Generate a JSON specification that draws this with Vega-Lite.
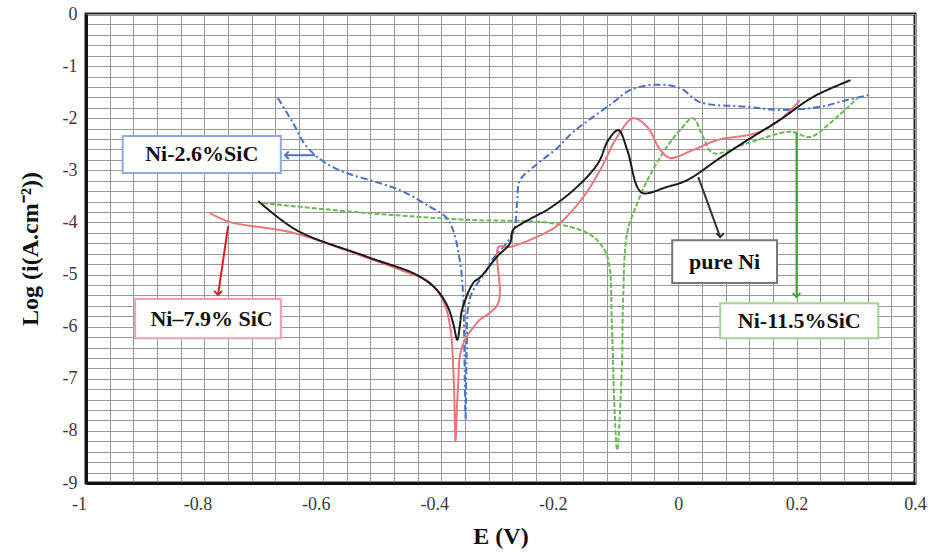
{
  "$schema": "https://vega.github.io/schema/vega-lite/v6.json",
  "width": 829,
  "height": 469,
  "autosize": "none",
  "padding": {"left": 86, "top": 14, "right": 20, "bottom": 71},
  "background": "white",
  "config": {
    "view": {"stroke": "#222222", "strokeWidth": 3},
    "font": "Liberation Serif"
  },
  "datasets": {
    "curves": [
      {"s": "Ni-11.5%SiC", "i": 1, "E": -0.701, "L": -3.63},
      {"s": "Ni-11.5%SiC", "i": 2, "E": -0.525, "L": -3.82},
      {"s": "Ni-11.5%SiC", "i": 3, "E": -0.356, "L": -3.95},
      {"s": "Ni-11.5%SiC", "i": 4, "E": -0.216, "L": -4.01},
      {"s": "Ni-11.5%SiC", "i": 5, "E": -0.154, "L": -4.2},
      {"s": "Ni-11.5%SiC", "i": 6, "E": -0.132, "L": -4.4},
      {"s": "Ni-11.5%SiC", "i": 7, "E": -0.118, "L": -4.72},
      {"s": "Ni-11.5%SiC", "i": 8, "E": -0.112, "L": -5.93},
      {"s": "Ni-11.5%SiC", "i": 9, "E": -0.108, "L": -7.41},
      {"s": "Ni-11.5%SiC", "i": 10, "E": -0.103, "L": -8.37},
      {"s": "Ni-11.5%SiC", "i": 11, "E": -0.095, "L": -6.78},
      {"s": "Ni-11.5%SiC", "i": 12, "E": -0.093, "L": -5.49},
      {"s": "Ni-11.5%SiC", "i": 13, "E": -0.086, "L": -4.2},
      {"s": "Ni-11.5%SiC", "i": 14, "E": -0.069, "L": -3.63},
      {"s": "Ni-11.5%SiC", "i": 15, "E": -0.052, "L": -3.19},
      {"s": "Ni-11.5%SiC", "i": 16, "E": -0.019, "L": -2.55},
      {"s": "Ni-11.5%SiC", "i": 17, "E": 0.003, "L": -2.23},
      {"s": "Ni-11.5%SiC", "i": 18, "E": 0.025, "L": -2.0},
      {"s": "Ni-11.5%SiC", "i": 19, "E": 0.042, "L": -2.36},
      {"s": "Ni-11.5%SiC", "i": 20, "E": 0.059, "L": -2.67},
      {"s": "Ni-11.5%SiC", "i": 21, "E": 0.117, "L": -2.48},
      {"s": "Ni-11.5%SiC", "i": 22, "E": 0.189, "L": -2.26},
      {"s": "Ni-11.5%SiC", "i": 23, "E": 0.223, "L": -2.36},
      {"s": "Ni-11.5%SiC", "i": 24, "E": 0.257, "L": -2.09},
      {"s": "Ni-11.5%SiC", "i": 25, "E": 0.302, "L": -1.62},

      {"s": "Ni-2.6%SiC", "i": 1, "E": -0.676, "L": -1.61},
      {"s": "Ni-2.6%SiC", "i": 2, "E": -0.65, "L": -2.1},
      {"s": "Ni-2.6%SiC", "i": 3, "E": -0.627, "L": -2.55},
      {"s": "Ni-2.6%SiC", "i": 4, "E": -0.583, "L": -2.94},
      {"s": "Ni-2.6%SiC", "i": 5, "E": -0.47, "L": -3.38},
      {"s": "Ni-2.6%SiC", "i": 6, "E": -0.419, "L": -3.7},
      {"s": "Ni-2.6%SiC", "i": 7, "E": -0.392, "L": -3.9},
      {"s": "Ni-2.6%SiC", "i": 8, "E": -0.38, "L": -4.15},
      {"s": "Ni-2.6%SiC", "i": 9, "E": -0.368, "L": -4.78},
      {"s": "Ni-2.6%SiC", "i": 10, "E": -0.363, "L": -5.43},
      {"s": "Ni-2.6%SiC", "i": 11, "E": -0.361, "L": -6.5},
      {"s": "Ni-2.6%SiC", "i": 12, "E": -0.359, "L": -7.78},
      {"s": "Ni-2.6%SiC", "i": 13, "E": -0.357, "L": -6.5},
      {"s": "Ni-2.6%SiC", "i": 14, "E": -0.351, "L": -5.43},
      {"s": "Ni-2.6%SiC", "i": 15, "E": -0.323, "L": -4.91},
      {"s": "Ni-2.6%SiC", "i": 16, "E": -0.318, "L": -4.78},
      {"s": "Ni-2.6%SiC", "i": 17, "E": -0.279, "L": -4.2},
      {"s": "Ni-2.6%SiC", "i": 18, "E": -0.272, "L": -3.63},
      {"s": "Ni-2.6%SiC", "i": 19, "E": -0.267, "L": -3.19},
      {"s": "Ni-2.6%SiC", "i": 20, "E": -0.236, "L": -2.86},
      {"s": "Ni-2.6%SiC", "i": 21, "E": -0.204, "L": -2.57},
      {"s": "Ni-2.6%SiC", "i": 22, "E": -0.177, "L": -2.26},
      {"s": "Ni-2.6%SiC", "i": 23, "E": -0.144, "L": -1.98},
      {"s": "Ni-2.6%SiC", "i": 24, "E": -0.111, "L": -1.71},
      {"s": "Ni-2.6%SiC", "i": 25, "E": -0.081, "L": -1.46},
      {"s": "Ni-2.6%SiC", "i": 26, "E": -0.042, "L": -1.36},
      {"s": "Ni-2.6%SiC", "i": 27, "E": 0.003, "L": -1.42},
      {"s": "Ni-2.6%SiC", "i": 28, "E": 0.037, "L": -1.69},
      {"s": "Ni-2.6%SiC", "i": 29, "E": 0.117, "L": -1.78},
      {"s": "Ni-2.6%SiC", "i": 30, "E": 0.172, "L": -1.84},
      {"s": "Ni-2.6%SiC", "i": 31, "E": 0.24, "L": -1.78},
      {"s": "Ni-2.6%SiC", "i": 32, "E": 0.285, "L": -1.65},
      {"s": "Ni-2.6%SiC", "i": 33, "E": 0.324, "L": -1.55},

      {"s": "Ni-7.9% SiC", "i": 1, "E": -0.791, "L": -3.82},
      {"s": "Ni-7.9% SiC", "i": 2, "E": -0.757, "L": -3.99},
      {"s": "Ni-7.9% SiC", "i": 3, "E": -0.65, "L": -4.2},
      {"s": "Ni-7.9% SiC", "i": 4, "E": -0.525, "L": -4.68},
      {"s": "Ni-7.9% SiC", "i": 5, "E": -0.46, "L": -4.95},
      {"s": "Ni-7.9% SiC", "i": 6, "E": -0.42, "L": -5.15},
      {"s": "Ni-7.9% SiC", "i": 7, "E": -0.397, "L": -5.5},
      {"s": "Ni-7.9% SiC", "i": 8, "E": -0.385, "L": -6.0},
      {"s": "Ni-7.9% SiC", "i": 9, "E": -0.379, "L": -7.0},
      {"s": "Ni-7.9% SiC", "i": 10, "E": -0.376, "L": -8.18},
      {"s": "Ni-7.9% SiC", "i": 11, "E": -0.372, "L": -7.2},
      {"s": "Ni-7.9% SiC", "i": 12, "E": -0.365, "L": -6.39},
      {"s": "Ni-7.9% SiC", "i": 13, "E": -0.34, "L": -5.93},
      {"s": "Ni-7.9% SiC", "i": 14, "E": -0.304, "L": -5.55},
      {"s": "Ni-7.9% SiC", "i": 15, "E": -0.303, "L": -4.47},
      {"s": "Ni-7.9% SiC", "i": 16, "E": -0.284, "L": -4.47},
      {"s": "Ni-7.9% SiC", "i": 17, "E": -0.216, "L": -4.15},
      {"s": "Ni-7.9% SiC", "i": 18, "E": -0.199, "L": -4.01},
      {"s": "Ni-7.9% SiC", "i": 19, "E": -0.16, "L": -3.51},
      {"s": "Ni-7.9% SiC", "i": 20, "E": -0.132, "L": -3.0},
      {"s": "Ni-7.9% SiC", "i": 21, "E": -0.103, "L": -2.36},
      {"s": "Ni-7.9% SiC", "i": 22, "E": -0.076, "L": -2.0},
      {"s": "Ni-7.9% SiC", "i": 23, "E": -0.052, "L": -2.17},
      {"s": "Ni-7.9% SiC", "i": 24, "E": -0.03, "L": -2.61},
      {"s": "Ni-7.9% SiC", "i": 25, "E": -0.014, "L": -2.76},
      {"s": "Ni-7.9% SiC", "i": 26, "E": 0.025, "L": -2.61},
      {"s": "Ni-7.9% SiC", "i": 27, "E": 0.066, "L": -2.42},
      {"s": "Ni-7.9% SiC", "i": 28, "E": 0.133, "L": -2.28},
      {"s": "Ni-7.9% SiC", "i": 29, "E": 0.172, "L": -2.03},
      {"s": "Ni-7.9% SiC", "i": 30, "E": 0.206, "L": -1.65},

      {"s": "pure Ni", "i": 1, "E": -0.709, "L": -3.59},
      {"s": "pure Ni", "i": 2, "E": -0.644, "L": -4.15},
      {"s": "pure Ni", "i": 3, "E": -0.525, "L": -4.66},
      {"s": "pure Ni", "i": 4, "E": -0.441, "L": -5.01},
      {"s": "pure Ni", "i": 5, "E": -0.407, "L": -5.3},
      {"s": "pure Ni", "i": 6, "E": -0.389, "L": -5.62},
      {"s": "pure Ni", "i": 7, "E": -0.38, "L": -5.93},
      {"s": "pure Ni", "i": 8, "E": -0.373, "L": -6.25},
      {"s": "pure Ni", "i": 9, "E": -0.368, "L": -5.92},
      {"s": "pure Ni", "i": 10, "E": -0.365, "L": -5.68},
      {"s": "pure Ni", "i": 11, "E": -0.346, "L": -5.16},
      {"s": "pure Ni", "i": 12, "E": -0.334, "L": -5.05},
      {"s": "pure Ni", "i": 13, "E": -0.306, "L": -4.66},
      {"s": "pure Ni", "i": 14, "E": -0.284, "L": -4.4},
      {"s": "pure Ni", "i": 15, "E": -0.279, "L": -4.15},
      {"s": "pure Ni", "i": 16, "E": -0.262, "L": -4.01},
      {"s": "pure Ni", "i": 17, "E": -0.216, "L": -3.72},
      {"s": "pure Ni", "i": 18, "E": -0.171, "L": -3.32},
      {"s": "pure Ni", "i": 19, "E": -0.135, "L": -2.86},
      {"s": "pure Ni", "i": 20, "E": -0.118, "L": -2.42},
      {"s": "pure Ni", "i": 21, "E": -0.101, "L": -2.23},
      {"s": "pure Ni", "i": 22, "E": -0.086, "L": -2.61},
      {"s": "pure Ni", "i": 23, "E": -0.069, "L": -3.32},
      {"s": "pure Ni", "i": 24, "E": -0.059, "L": -3.44},
      {"s": "pure Ni", "i": 25, "E": -0.019, "L": -3.32},
      {"s": "pure Ni", "i": 26, "E": 0.015, "L": -3.19},
      {"s": "pure Ni", "i": 27, "E": 0.071, "L": -2.76},
      {"s": "pure Ni", "i": 28, "E": 0.117, "L": -2.42},
      {"s": "pure Ni", "i": 29, "E": 0.172, "L": -2.03},
      {"s": "pure Ni", "i": 30, "E": 0.228, "L": -1.59},
      {"s": "pure Ni", "i": 31, "E": 0.291, "L": -1.27}
    ],
    "boxes": [
      {"label": "Ni-2.6%SiC", "E1": -0.938, "E2": -0.671, "L1": -2.34, "L2": -3.05, "Ec": -0.8045, "Lc": -2.695, "c": "#8fa8e0"},
      {"label": "Ni–7.9% SiC", "E1": -0.917, "E2": -0.671, "L1": -5.47, "L2": -6.22, "Ec": -0.788, "Lc": -5.845, "c": "#f0a0a8"},
      {"label": "pure Ni", "E1": -0.01, "E2": 0.167, "L1": -4.34, "L2": -5.16, "Ec": 0.0785, "Lc": -4.75, "c": "#777777"},
      {"label": "Ni-11.5%SiC", "E1": 0.071, "E2": 0.338, "L1": -5.55, "L2": -6.22, "Ec": 0.2045, "Lc": -5.885, "c": "#a8d098"}
    ],
    "arrows": [
      {"a": "blue", "E1": -0.613, "L1": -2.71, "E2": -0.664, "L2": -2.71, "c": "#4a72c8", "sh": "M1,-1L0,0L1,1"},
      {"a": "red", "E1": -0.76, "L1": -4.07, "E2": -0.777, "L2": -5.39, "c": "#d92020", "sh": "M-1,-1L0,0L1,-1"},
      {"a": "black", "E1": 0.034, "L1": -3.13, "E2": 0.071, "L2": -4.28, "c": "#333333", "sh": "M-1,-1L0,0L1,-1"},
      {"a": "green", "E1": 0.2, "L1": -2.28, "E2": 0.2, "L2": -5.43, "c": "#3aa83a", "sh": "M-1,-1L0,0L1,-1"}
    ]
  },
  "layer": [
    {
      "data": {"name": "curves"},
      "mark": {"type": "line", "strokeWidth": 2, "clip": true, "interpolate": "catmull-rom"},
      "encoding": {
        "x": {
          "field": "E", "type": "quantitative",
          "scale": {"domain": [-1, 0.4], "nice": false, "zero": false},
          "axis": {
            "title": "E (V)",
            "values": [-1, -0.96, -0.92, -0.88, -0.84, -0.8, -0.76, -0.72, -0.68, -0.64, -0.6, -0.56, -0.52, -0.48, -0.44, -0.4, -0.36, -0.32, -0.28, -0.24, -0.2, -0.16, -0.12, -0.08, -0.04, 0, 0.04, 0.08, 0.12, 0.16, 0.2, 0.24, 0.28, 0.32, 0.36, 0.4],
            "tickCount": 200,
            "labelExpr": "abs(datum.value*5 - round(datum.value*5)) < 0.001 ? '' + round(datum.value*10)/10 : ''",
            "labelFont": "Liberation Serif", "labelFontSize": 18, "labelColor": "#3a3a3a",
            "labelOffset": {"condition": {"test": "datum.value < 0", "value": -7}, "value": 0},
            "labelPadding": 12, "labelFlush": false, "labelOverlap": false,
            "ticks": false,
            "grid": true, "gridColor": "#999999", "gridWidth": 1,
            "domain": true, "domainColor": "#111111", "domainWidth": 3,
            "titleFont": "Liberation Serif", "titleFontSize": 24, "titleFontWeight": "bold", "titleColor": "#111111", "titlePadding": 11
          }
        },
        "y": {
          "field": "L", "type": "quantitative",
          "scale": {"domain": [-9, 0], "nice": false, "zero": false},
          "axis": {
            "title": "Log (i(A.cm⁻²))",
            "values": [-9, -8.8, -8.6, -8.4, -8.2, -8, -7.8, -7.6, -7.4, -7.2, -7, -6.8, -6.6, -6.4, -6.2, -6, -5.8, -5.6, -5.4, -5.2, -5, -4.8, -4.6, -4.4, -4.2, -4, -3.8, -3.6, -3.4, -3.2, -3, -2.8, -2.6, -2.4, -2.2, -2, -1.8, -1.6, -1.4, -1.2, -1, -0.8, -0.6, -0.4, -0.2, 0],
            "tickCount": 200,
            "labelExpr": "abs(datum.value - round(datum.value)) < 0.001 ? '' + round(datum.value) : ''",
            "labelFont": "Liberation Serif", "labelFontSize": 18, "labelColor": "#3a3a3a",
            "labelPadding": 9, "labelFlush": false, "labelOverlap": false,
            "ticks": false,
            "grid": true, "gridColor": "#999999", "gridWidth": 1,
            "domain": true, "domainColor": "#111111", "domainWidth": 3,
            "titleFont": "Liberation Serif", "titleFontSize": 24, "titleFontWeight": "bold", "titleColor": "#111111", "titlePadding": 20
          }
        },
        "color": {
          "field": "s", "type": "nominal",
          "scale": {"domain": ["Ni-11.5%SiC", "Ni-2.6%SiC", "Ni-7.9% SiC", "pure Ni"], "range": ["#6cba58", "#4a72c8", "#e8767a", "#1a1a1a"]},
          "legend": null
        },
        "strokeDash": {
          "field": "s", "type": "nominal",
          "scale": {"domain": ["Ni-11.5%SiC", "Ni-2.6%SiC", "Ni-7.9% SiC", "pure Ni"], "range": [[5, 2], [7, 3, 2, 3], [1, 0], [1, 0]]},
          "legend": null
        },
        "detail": {"field": "s"},
        "order": {"field": "i", "type": "quantitative"}
      }
    },
    {
      "data": {"name": "arrows"},
      "mark": {"type": "rule", "strokeWidth": 2},
      "encoding": {
        "x": {"field": "E1", "type": "quantitative"},
        "y": {"field": "L1", "type": "quantitative"},
        "x2": {"field": "E2"},
        "y2": {"field": "L2"},
        "color": {"field": "c", "type": "nominal", "scale": null}
      }
    },
    {
      "data": {"name": "arrows"},
      "mark": {"type": "point", "filled": false, "strokeWidth": 2, "size": 60, "opacity": 1},
      "encoding": {
        "x": {"field": "E2", "type": "quantitative"},
        "y": {"field": "L2", "type": "quantitative"},
        "shape": {"field": "sh", "type": "nominal", "scale": null},
        "color": {"field": "c", "type": "nominal", "scale": null}
      }
    },
    {
      "data": {"name": "boxes"},
      "mark": {"type": "rect", "fill": "white", "strokeWidth": 2},
      "encoding": {
        "x": {"field": "E1", "type": "quantitative"},
        "x2": {"field": "E2"},
        "y": {"field": "L1", "type": "quantitative"},
        "y2": {"field": "L2"},
        "stroke": {"field": "c", "type": "nominal", "scale": null}
      }
    },
    {
      "data": {"name": "boxes"},
      "mark": {"type": "text", "font": "Liberation Serif", "fontSize": 22, "fontWeight": "bold", "color": "#111111", "align": "center", "baseline": "middle"},
      "encoding": {
        "x": {"field": "Ec", "type": "quantitative"},
        "y": {"field": "Lc", "type": "quantitative"},
        "text": {"field": "label"}
      }
    }
  ]
}
